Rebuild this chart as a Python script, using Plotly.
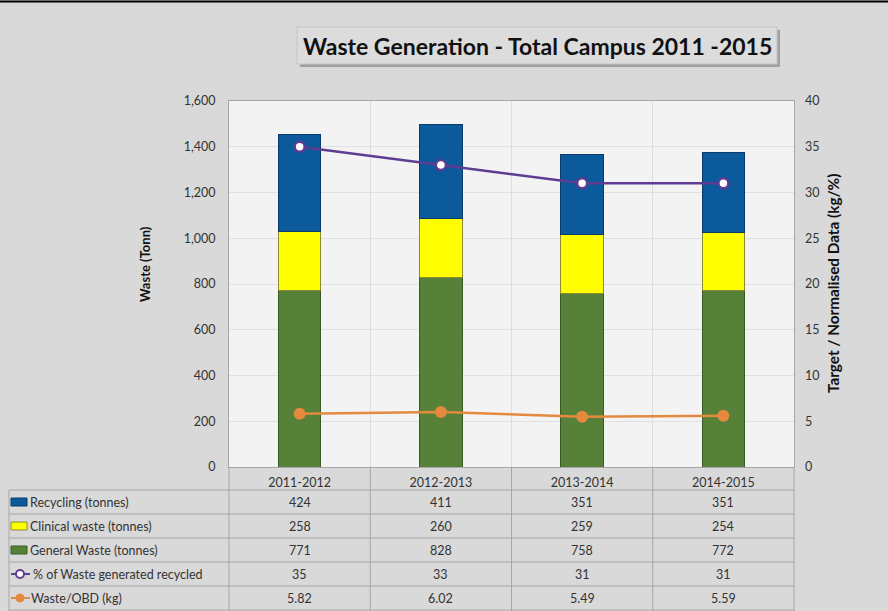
import plotly.graph_objects as go

categories = ["2011-2012", "2012-2013", "2013-2014", "2014-2015"]
recycling = [424, 411, 351, 351]
clinical = [258, 260, 259, 254]
general = [771, 828, 758, 772]
pct_recycled = [35, 33, 31, 31]
waste_obd = [5.82, 6.02, 5.49, 5.59]
waste_obd_labels = ["5.82", "6.02", "5.49", "5.59"]

series_names = ["Recycling (tonnes)", "Clinical waste (tonnes)", "General Waste (tonnes)",
                "% of Waste generated recycled", "Waste/OBD (kg)"]

C_BLUE = "#0A5A9C"
C_YELLOW = "#FFFF00"
C_GREEN = "#578038"
C_PURPLE = "#5E3C91"
C_ORANGE = "#E38A3E"
FONT = "Lato"
TXT = "#333333"

W, H = 888, 611
PL, PR, PT, PB = 229, 794, 101, 467


def X(px):
    return (px - PL) / (PR - PL)


def Y(py):
    return (PB - py) / (PB - PT)


fig = go.Figure()
fig.add_trace(go.Bar(x=categories, y=general, name=series_names[2], marker=dict(color=C_GREEN, line=dict(color="#3A5A25", width=1))))
fig.add_trace(go.Bar(x=categories, y=clinical, name=series_names[1], marker=dict(color=C_YELLOW, line=dict(color="#8A8A30", width=1))))
fig.add_trace(go.Bar(x=categories, y=recycling, name=series_names[0], marker=dict(color=C_BLUE, line=dict(color="#0A3A6A", width=1))))
fig.add_trace(go.Scatter(x=categories, y=pct_recycled, yaxis="y2", mode="lines+markers", name=series_names[3],
                         line=dict(color=C_PURPLE, width=2.5),
                         marker=dict(size=10, color="white", line=dict(color=C_PURPLE, width=2.5))))
fig.add_trace(go.Scatter(x=categories, y=waste_obd, yaxis="y2", mode="lines+markers", name=series_names[4],
                         line=dict(color=C_ORANGE, width=2.5),
                         marker=dict(size=12, color=C_ORANGE)))

shapes = []
annotations = []

# top black rule
shapes.append(dict(type="line", xref="paper", yref="paper", x0=X(0), x1=X(W), y0=Y(1.5), y1=Y(1.5),
                   line=dict(color="black", width=2)))

# title box with shadow
shapes.append(dict(type="rect", xref="paper", yref="paper", x0=X(300), x1=X(780), y0=Y(30), y1=Y(67),
                   fillcolor="#A0A0A0", line=dict(width=0), layer="below"))
shapes.append(dict(type="rect", xref="paper", yref="paper", x0=X(297), x1=X(777), y0=Y(27), y1=Y(64),
                   fillcolor="#DCDCDC", line=dict(color="#C4C4C4", width=1), layer="below"))
annotations.append(dict(xref="paper", yref="paper", x=X(537), y=Y(45.5), text="<b>Waste Generation - Total Campus 2011 -2015</b>",
                        showarrow=False, font=dict(family=FONT, size=23, color="#111111"), xanchor="center", yanchor="middle"))

# axis titles
annotations.append(dict(xref="paper", yref="paper", x=X(145), y=Y(264), text="<b>Waste (Tonn)</b>", textangle=-90,
                        showarrow=False, xanchor="center", yanchor="middle", font=dict(family=FONT, size=13, color="#111111")))
annotations.append(dict(xref="paper", yref="paper", x=X(833), y=Y(284), text="<b>Target / Normalised Data (kg/%)</b>", textangle=-90,
                        showarrow=False, xanchor="center", yanchor="middle", font=dict(family=FONT, size=15.3, color="#111111")))

# data table lines
LINE_C = "#A6A6A6"
col_edges = [PL + i * (PR - PL) / 4 for i in range(5)]
row_edges = [490, 514, 538, 562, 586, 610]
for i, xe in enumerate(col_edges):
    shapes.append(dict(type="line", xref="paper", yref="paper", x0=X(xe), x1=X(xe), y0=Y(467), y1=Y(611),
                       line=dict(color=LINE_C, width=1)))
shapes.append(dict(type="line", xref="paper", yref="paper", x0=X(9), x1=X(9), y0=Y(490), y1=Y(611),
                   line=dict(color=LINE_C, width=1)))
for ye in row_edges:
    shapes.append(dict(type="line", xref="paper", yref="paper", x0=X(9), x1=X(PR), y0=Y(ye), y1=Y(ye),
                       line=dict(color=LINE_C, width=1)))

table_rows = [
    [str(v) for v in recycling],
    [str(v) for v in clinical],
    [str(v) for v in general],
    [str(v) for v in pct_recycled],
    waste_obd_labels,
]
key_colors = [(C_BLUE, "#0A3A6A"), (C_YELLOW, "#8A8A30"), (C_GREEN, "#3A5A25")]
for r in range(5):
    yc = (row_edges[r] + row_edges[r + 1]) / 2
    if r < 3:
        fc, lc = key_colors[r]
        shapes.append(dict(type="rect", xref="paper", yref="paper", x0=X(11), x1=X(27), y0=Y(yc - 4), y1=Y(yc + 4),
                           fillcolor=fc, line=dict(color=lc, width=1)))
        tx = 28
    else:
        col = C_PURPLE if r == 3 else C_ORANGE
        shapes.append(dict(type="line", xref="paper", yref="paper", x0=X(11), x1=X(30), y0=Y(yc), y1=Y(yc),
                           line=dict(color=col, width=2)))
        if r == 3:
            shapes.append(dict(type="circle", xref="paper", yref="paper", x0=X(16), x1=X(24), y0=Y(yc - 4), y1=Y(yc + 4),
                               fillcolor="white", line=dict(color=col, width=2)))
            tx = 31
        else:
            shapes.append(dict(type="circle", xref="paper", yref="paper", x0=X(16), x1=X(24), y0=Y(yc - 4), y1=Y(yc + 4),
                               fillcolor=col, line=dict(color=col, width=1)))
            tx = 29
    annotations.append(dict(xref="paper", yref="paper", x=X(tx), y=Y(yc), text=series_names[r], showarrow=False,
                            xanchor="left", yanchor="middle", font=dict(family=FONT, size=12.5, color=TXT)))
    for c in range(4):
        xc = (col_edges[c] + col_edges[c + 1]) / 2
        annotations.append(dict(xref="paper", yref="paper", x=X(xc), y=Y(yc), text=table_rows[r][c], showarrow=False,
                                xanchor="center", yanchor="middle", font=dict(family=FONT, size=12.5, color=TXT)))

fig.update_layout(
    width=W, height=H,
    margin=dict(l=PL, r=W - PR, t=PT, b=H - PB),
    paper_bgcolor="#D9D9D9",
    plot_bgcolor="#F3F3F3",
    barmode="stack",
    bargap=0.7,
    showlegend=False,
    font=dict(family=FONT, size=12, color=TXT),
    shapes=shapes,
    annotations=annotations,
    xaxis=dict(showgrid=True, gridcolor="#DDDDDD", tickson="boundaries", ticks="", showline=True, linecolor="#A6A6A6",
               mirror=True, tickfont=dict(family=FONT, size=12.5, color=TXT), ticklabelstandoff=4),
    yaxis=dict(range=[0, 1600], dtick=200, tickformat=",", showgrid=True, gridcolor="#E0E0E0", zeroline=False,
               showline=True, linecolor="#A6A6A6", mirror=True, ticks="", ticklabelstandoff=10,
               tickfont=dict(family=FONT, size=12.5, color=TXT)),
    yaxis2=dict(range=[0, 40], dtick=5, overlaying="y", side="right", showgrid=False, zeroline=False, ticks="",
                ticklabelstandoff=10, tickfont=dict(family=FONT, size=12.5, color=TXT)),
)

fig.write_html("out.html", config={"displayModeBar": False},
               post_script="document.body.style.margin='0';document.body.style.overflow='hidden';")
